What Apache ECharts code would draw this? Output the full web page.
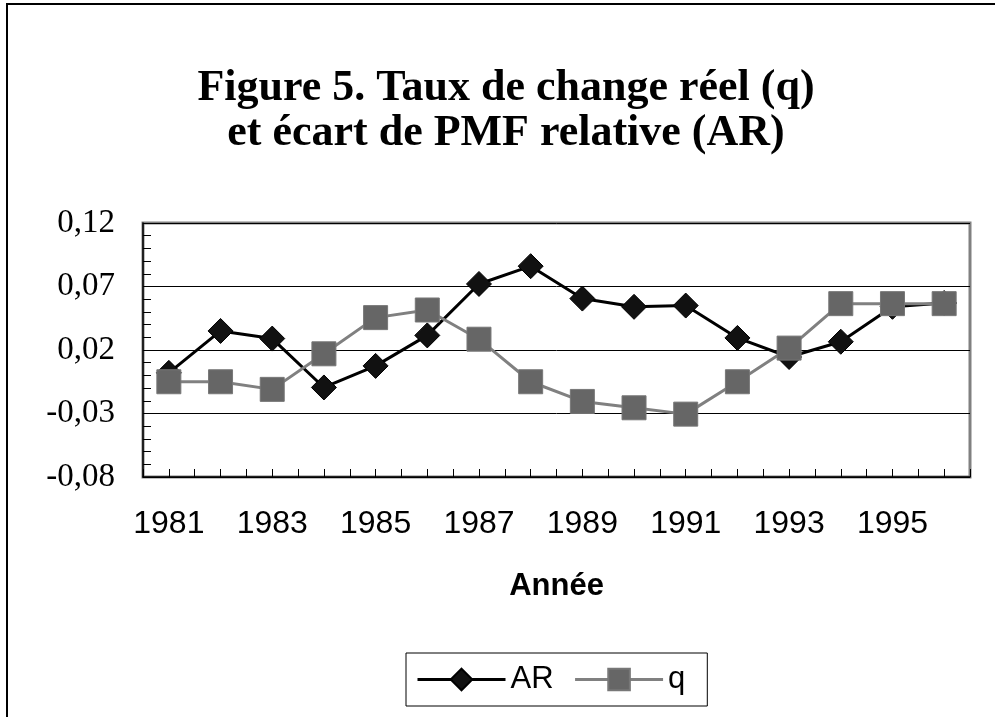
<!DOCTYPE html>
<html>
<head>
<meta charset="utf-8">
<script src="https://cdn.jsdelivr.net/npm/echarts@6/dist/echarts.min.js"></script>
<style>
html,body{margin:0;padding:0;background:#fff;}
#chart{width:995px;height:717px;}
</style>
</head>
<body>
<div id="chart"></div>
<script>
const years = ['1981','1982','1983','1984','1985','1986','1987','1988','1989','1990','1991','1992','1993','1994','1995','1996'];
const arValues = [0.002, 0.035, 0.029, -0.0095, 0.0075, 0.0315, 0.072, 0.086, 0.0605, 0.054, 0.055, 0.0295, 0.0145, 0.0265, 0.054, 0.057];
const qValues = [-0.005, -0.005, -0.011, 0.017, 0.0455, 0.0515, 0.0285, -0.005, -0.0205, -0.0255, -0.0305, -0.005, 0.0215, 0.0565, 0.0565, 0.0565];
const yLabels = ['-0,08', '-0,03', '0,02', '0,07', '0,12'];
const titleLines = ['Figure 5. Taux de change réel (q)', 'et écart de PMF relative (AR)'];
const xName = 'Année';
const seriesNames = ['AR', 'q'];

const chart = echarts.init(document.getElementById('chart'), null, {renderer: 'canvas'});
const yMin = -0.08, yMax = 0.12;
const option = {
  backgroundColor: '#ffffff',
  animation: false,
  title: {
    text: titleLines.join('\n'),
    left: 501,
    top: 61,
    textAlign: 'center',
    textStyle: {fontFamily: 'Liberation Serif', fontWeight: 'bold', fontSize: 44, lineHeight: 45, color: '#000'}
  },
  graphic: [{
    type: 'rect', silent: true, z: 0,
    shape: {x: 7, y: 4, width: 1100, height: 1000},
    style: {fill: 'none', stroke: '#000', lineWidth: 2}
  }],
  legend: {
    left: 406, top: 653,
    data: seriesNames,
    itemWidth: 88, itemHeight: 27, itemGap: 20,
    padding: [11, 22, 11, 10],
    borderColor: '#000', borderWidth: 1,
    backgroundColor: '#fff',
    lineStyle: {width: 3},
    textStyle: {fontFamily: 'Liberation Sans', fontSize: 31, color: '#000'}
  },
  grid: {left: 143, top: 223, right: 25, bottom: 240, show: true, borderColor: '#808080', borderWidth: 3, backgroundColor: '#fff', containLabel: false},
  xAxis: [{
    type: 'category', data: years, boundaryGap: true, position: 'bottom',
    axisLine: {show: true, onZero: false, lineStyle: {color: '#000', width: 1.5}},
    axisTick: {show: true, inside: true, length: 8, interval: 0, lineStyle: {color: '#000', width: 1}},
    axisLabel: {interval: 1, margin: 31, fontFamily: 'Liberation Sans', fontSize: 32, color: '#000'},
    splitLine: {show: false},
    name: xName, nameLocation: 'middle', nameGap: 94,
    nameTextStyle: {fontFamily: 'Liberation Sans', fontWeight: 'bold', fontSize: 31, color: '#000'}
  }, {
    type: 'category', data: years, boundaryGap: true, position: 'bottom',
    axisLine: {show: false, onZero: false},
    axisTick: {show: true, inside: true, length: 8, interval: 0, alignWithLabel: true, lineStyle: {color: '#000', width: 1}},
    axisLabel: {show: false},
    splitLine: {show: false}
  }],
  yAxis: {
    type: 'value', min: yMin, max: yMax, interval: 0.01,
    axisLine: {show: true, onZero: false, lineStyle: {color: '#000', width: 1.5}},
    axisTick: {show: true, inside: true, length: 8, lineStyle: {color: '#000', width: 1}},
    axisLabel: {
      margin: 28, fontFamily: 'Liberation Serif', fontSize: 33, color: '#000',
      formatter: function (v) {
        const idx = Math.round((v - yMin) * 100);
        if (idx % 5 !== 0) return '';
        return yLabels[idx / 5];
      }
    },
    splitLine: {show: true, lineStyle: {color: ['#000', 'rgba(0,0,0,0)', 'rgba(0,0,0,0)', 'rgba(0,0,0,0)', 'rgba(0,0,0,0)'], width: 1}}
  },
  series: [{
    name: seriesNames[0], type: 'line', data: arValues, xAxisIndex: 0,
    symbol: 'diamond', symbolSize: 25,
    lineStyle: {color: '#000', width: 3},
    itemStyle: {color: '#111', borderColor: '#000', borderWidth: 1},
    z: 3
  }, {
    name: seriesNames[1], type: 'line', data: qValues, xAxisIndex: 0,
    symbol: 'rect', symbolSize: 24,
    lineStyle: {color: '#808080', width: 3},
    itemStyle: {color: '#666666', borderColor: '#777777', borderWidth: 1},
    z: 4
  }]
};
chart.setOption(option);
</script>
</body>
</html>
